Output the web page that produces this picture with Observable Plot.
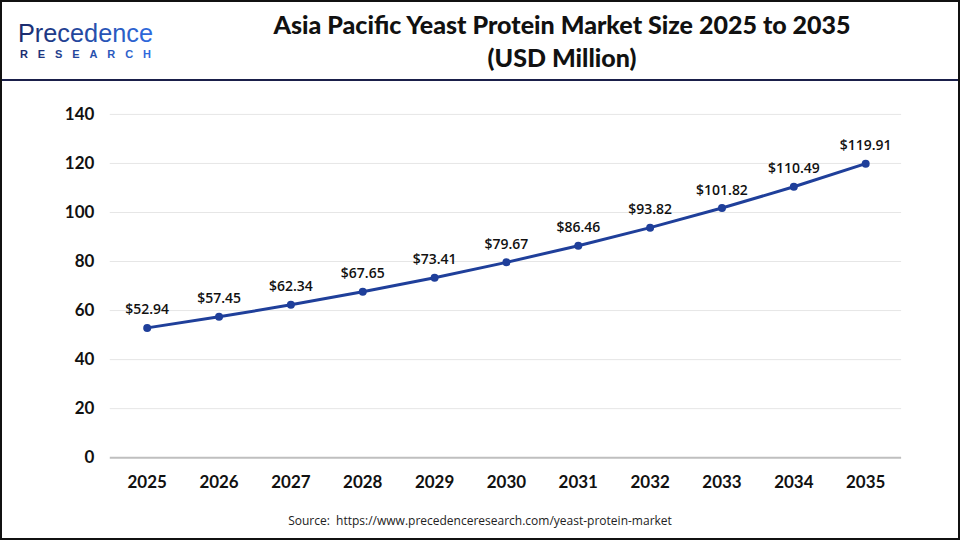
<!DOCTYPE html>
<html><head><meta charset="utf-8">
<script src="https://cdn.jsdelivr.net/npm/d3@7"></script>
<script src="https://cdn.jsdelivr.net/npm/@observablehq/plot@0.6"></script>
<style>
html,body{margin:0;padding:0;background:#fff;}
#frame{position:relative;width:956px;height:536px;border:2px solid #111;overflow:hidden;font-family:Lato,"Open Sans",sans-serif;}
#header{position:absolute;left:0;top:0;width:956px;height:77px;border-bottom:2px solid #1a1f4a;}
#logo{position:absolute;left:-2px;top:-2px;}
#title{position:absolute;left:200px;width:720px;top:6px;text-align:center;font-family:Lato,sans-serif;font-weight:900;font-size:25px;line-height:33px;color:#111;}
#chart{position:absolute;left:-2px;top:74px;}
#source{position:absolute;left:0;width:956px;top:510px;text-align:center;font-family:"Open Sans",sans-serif;font-size:12px;color:#222;}
</style></head>
<body>
<div id="frame">
  <div id="header">
    <svg id="logo" width="170" height="70">
      <defs>
        <linearGradient id="lg" x1="0" x2="1" y1="0" y2="0">
          <stop offset="0" stop-color="#1b2a6b"/>
          <stop offset="1" stop-color="#2f6be0"/>
        </linearGradient>
      </defs>
      <text x="18" y="42" font-family="Liberation Sans, Arial, sans-serif" font-size="25" font-weight="400" fill="url(#lg)" textLength="135" lengthAdjust="spacingAndGlyphs">Precedence</text>
      <text x="20" y="58" font-family="Liberation Sans, Arial, sans-serif" font-size="11" font-weight="700" fill="url(#lg)" textLength="131" lengthAdjust="spacing">RESEARCH</text>
    </svg>
    <div id="title">Asia Pacific Yeast Protein Market Size 2025 to 2035<br>(USD Million)</div>
  </div>
  <div id="chart"></div>
  <div id="source">Source:&nbsp; https://www.precedenceresearch.com/yeast-protein-market</div>
</div>
<script>
const years = [2025, 2026, 2027, 2028, 2029, 2030, 2031, 2032, 2033, 2034, 2035];
const values = [52.94, 57.45, 62.34, 67.65, 73.41, 79.67, 86.46, 93.82, 101.82, 110.49, 119.91];
const yTicks = [0, 20, 40, 60, 80, 100, 120, 140];

const data = years.map((y, i) => ({year: y, value: values[i]}));

const chart = Plot.plot({
  width: 960,
  height: 431,
  marginLeft: 110,
  marginRight: 57,
  marginTop: 38,
  marginBottom: 49,
  x: {type: "point", domain: years, padding: 0.5, label: null, tickSize: 0, tickPadding: 18, tickFormat: d => String(d)},
  y: {domain: [0, 140], ticks: yTicks, label: null, tickSize: 0, tickPadding: 16},
  style: {fontFamily: "Lato, sans-serif", fontSize: "17px", fontWeight: "bold", color: "#111", background: "transparent"},
  marks: [
    Plot.gridY(yTicks.filter(d => d > 0), {stroke: "#e6e6e6", strokeOpacity: 1, strokeWidth: 1}),
    Plot.ruleY([0], {stroke: "#bfbfbf", strokeWidth: 2}),
    Plot.line(data, {x: "year", y: "value", stroke: "#1f3f9a", strokeWidth: 3}),
    Plot.dot(data, {x: "year", y: "value", fill: "#1f3f9a", r: 4}),
    Plot.text(data, {x: "year", y: "value", text: d => "$" + d.value.toFixed(2), dy: -18, fontSize: 14, fontWeight: 600, fill: "#111", fontFamily: "Open Sans, sans-serif"})
  ]
});
document.getElementById("chart").appendChild(chart);
</script>
</body></html>
